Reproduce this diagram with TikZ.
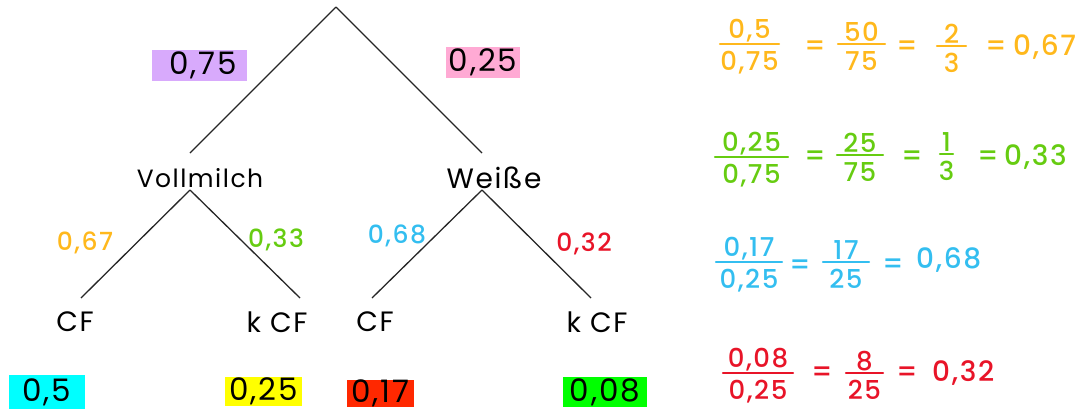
\documentclass[tikz,border=0pt]{standalone}
\usepackage{fontspec}
\setmainfont{Poppins}[LetterSpace=6]
\newfontfamily\handfont{Poppins}[UprightFont=* Medium,LetterSpace=6]
\usetikzlibrary{calc,positioning}

\definecolor{orng}{RGB}{255,184,28}
\definecolor{grn}{RGB}{102,204,17}
\definecolor{blu}{RGB}{51,190,240}
\definecolor{rd}{RGB}{232,20,40}
\definecolor{tagpurple}{RGB}{216,170,252}
\definecolor{tagpink}{RGB}{255,170,212}
\definecolor{tagcyan}{RGB}{0,255,255}
\definecolor{tagyellow}{RGB}{255,255,0}
\definecolor{tagred}{RGB}{255,40,0}
\definecolor{taggreen}{RGB}{0,255,0}

% a hand-written style fraction: name, left x, right x, bar y, numerator, denominator
\newcommand\hwfrac[6]{%
  \coordinate (#1-l) at (#2,#4);
  \coordinate (#1-r) at (#3,#4);
  \draw[fracbar] (#1-l) -- (#1-r);
  \node[fracpart,anchor=south] (#1-n) at ($(#1-l)!0.5!(#1-r)+(0,-2)$) {#5};
  \node[fracpart,anchor=north] (#1-d) at ($(#1-l)!0.5!(#1-r)+(0,7)$) {#6};
}

\begin{document}
\begin{tikzpicture}[x=1pt,y=-1pt,
  branch/.style={line width=1.3pt,black!85},
  word/.style={font=\fontsize{28}{32}\selectfont,inner sep=0pt},
  tag/.style={font=\fontsize{31}{35}\selectfont,inner sep=0pt,minimum height=31pt},
  prob/.style={font=\handfont\fontsize{25}{29}\selectfont,inner sep=0pt},
  fracpart/.style={font=\handfont\fontsize{26}{30}\selectfont,inner sep=0pt},
  fracbar/.style={line width=2.4pt,line cap=round},
  eqsign/.style={font=\handfont\fontsize{28}{32}\selectfont,inner sep=0pt},
  result/.style={font=\handfont\fontsize{28}{32}\selectfont,inner sep=0pt,anchor=west}]
\useasboundingbox (0,0) rectangle (1090,416);

% tree
\coordinate (root) at (336,7);
\coordinate (vm-in) at (190,153);
\coordinate (vm-out) at (190,190);
\coordinate (ws-in) at (482,153);
\coordinate (ws-out) at (482,190);
\node[word,font=\fontsize{25}{29}\selectfont] (vm) at (200,178) {Vollmilch};
\node[word] (ws) at (494,178) {Weiße};

\coordinate (l1) at (81,298);
\coordinate (l2) at (300,298);
\coordinate (l3) at (372,298);
\coordinate (l4) at (591,298);
\node[word] (cf1) at (75,322) {CF};
\node[word] (kcf1) at (277,322) {k CF};
\node[word] (cf2) at (375,322) {CF};
\node[word] (kcf2) at (597,322) {k CF};

\draw[branch] (root) -- (vm-in);
\draw[branch] (root) -- (ws-in);
\draw[branch] (vm-out) -- (l1);
\draw[branch] (vm-out) -- (l2);
\draw[branch] (ws-out) -- (l3);
\draw[branch] (ws-out) -- (l4);

% first-level probabilities
\node[tag,fill=tagpurple,text width=75pt,inner xsep=10pt,align=right] (p75) at (199.5,65) {0,75};
\node[tag,fill=tagpink,minimum width=74pt] (p25) at (483,62) {0,25};

% conditional probabilities on the branches
\node[prob,text=orng] (c67) at (85,243) {0,67};
\node[prob,text=grn] (c33) at (276,240) {0,33};
\node[prob,text=blu] (c68) at (397,236) {0,68};
\node[prob,text=rd] (c32) at (584,244) {0,32};

% joint probabilities
\node[tag,fill=tagcyan,minimum width=76pt,minimum height=34pt] (j1) at (47,392) {0,5};
\node[tag,fill=tagyellow,minimum width=77pt,minimum height=29pt] (j2) at (263.5,391.5) {0,25};
\node[tag,fill=tagred,minimum width=67pt,minimum height=27pt] (j3) at (380.5,393.5) {0,17};
\node[tag,fill=taggreen,minimum width=84pt,minimum height=30pt] (j4) at (605,392) {0,08};

% P(CF | Vollmilch)
\begin{scope}[orng]
\hwfrac{f1a}{720}{779}{44}{0,5}{0,75}
\node[eqsign] (e1a) at (815,48) {=};
\hwfrac{f1b}{838}{885}{44}{50}{75}
\node[eqsign] (e1b) at (907,48) {=};
\hwfrac{f1c}{937}{966}{46}{2}{3}
\node[eqsign] (e1c) at (996,48) {=};
\node[result] (r1) at (1013,47) {0,67};
\end{scope}

% P(k CF | Vollmilch)
\begin{scope}[grn]
\hwfrac{f2a}{715}{788}{157}{0,25}{0,75}
\node[eqsign] (e2a) at (815,158) {=};
\hwfrac{f2b}{837}{883}{155}{25}{75}
\node[eqsign] (e2b) at (912,158) {=};
\hwfrac{f2c}{940}{953}{154}{1}{3}
\node[eqsign] (e2c) at (988,158) {=};
\node[result] (r2) at (1004,157) {0,33};
\end{scope}

% P(CF | Weiße)
\begin{scope}[blu]
\hwfrac{f3a}{716}{782}{262}{0,17}{0,25}
\node[eqsign] (e3a) at (800,267) {=};
\hwfrac{f3b}{823}{869}{262}{17}{25}
\node[eqsign] (e3b) at (893,266) {=};
\node[result] (r3) at (916,260) {0,68};
\end{scope}

% P(k CF | Weiße)
\begin{scope}[rd]
\hwfrac{f4a}{723}{793}{373}{0,08}{0,25}
\node[eqsign] (e4a) at (822,374) {=};
\hwfrac{f4b}{846}{883}{373}{8}{25}
\node[eqsign] (e4b) at (907,374) {=};
\node[result] (r4) at (932,373) {0,32};
\end{scope}
\end{tikzpicture}
\end{document}
